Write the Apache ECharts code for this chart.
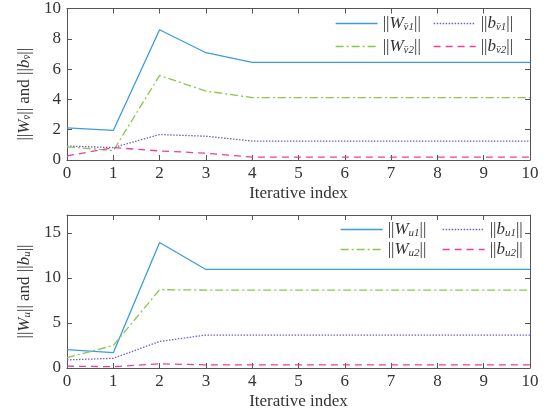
<!DOCTYPE html>
<html><head><meta charset="utf-8">
<script src="https://cdn.jsdelivr.net/npm/echarts@6/dist/echarts.min.js"></script>
<style>html,body{margin:0;padding:0;background:#fff}#c{width:552px;height:416px}</style>
</head><body><div id="c"></div>
<script>
var iter = [0,1,2,3,4,5,6,7,8,9,10];
var xTicks = ['0','1','2','3','4','5','6','7','8','9','10'];
// top panel
var Wv1 = [2.12,1.95,8.6,7.08,6.45,6.45,6.45,6.45,6.45,6.45,6.45];
var Wv2 = [0.87,0.62,5.58,4.55,4.12,4.12,4.12,4.12,4.12,4.12,4.12];
var bv1 = [0.92,0.82,1.68,1.57,1.25,1.25,1.25,1.25,1.25,1.25,1.25];
var bv2 = [0.27,0.82,0.6,0.45,0.19,0.19,0.19,0.19,0.19,0.19,0.19];
// bottom panel
var Wu1 = [2.05,1.7,13.95,10.95,10.95,10.95,10.95,10.95,10.95,10.95,10.95];
var Wu2 = [1.15,2.5,8.7,8.66,8.66,8.66,8.66,8.66,8.66,8.66,8.66];
var bu1 = [0.9,1.08,2.95,3.66,3.66,3.66,3.66,3.66,3.66,3.66,3.66];
var bu2 = [0.2,0.15,0.46,0.35,0.35,0.35,0.35,0.35,0.35,0.35,0.35];

var FONT = 'Liberation Serif';
var AX = '#555';
var TXT = '#333';
var colors = {W1:'#3d9be0', W2:'#86c84a', b1:'#7a5ac8', b2:'#e8409a'};
var styles = {W1:'solid', W2:[8,3,2,3], b1:[1.5,1.5], b2:[7,5]};

function pairs(v){ return iter.map(function(x,i){ return [x, v[i]]; }); }

var rich = {
  n:{fontFamily:FONT,fontSize:17,color:TXT},
  i:{fontFamily:FONT,fontSize:17,fontStyle:'italic',color:TXT},
  s:{fontFamily:FONT,fontSize:11,fontStyle:'italic',color:TXT,verticalAlign:'bottom',padding:[7,0,0,0]}
};

function label(sym, sub){ return '{n|||}{i|'+sym+'}{s|'+sub+'}{n|||}'; }

var names = {
  Wv1: label('W','v\u03041'), Wv2: label('W','v\u03042'),
  bv1: label('b','v\u03041'), bv2: label('b','v\u03042'),
  Wu1: label('W','u1'), Wu2: label('W','u2'),
  bu1: label('b','u1'), bu2: label('b','u2')
};

function xAx(gi){
  return [{
    type:'value', gridIndex:gi, min:0, max:10, interval:1, position:'bottom',
    axisLine:{show:true,onZero:false,lineStyle:{color:AX,width:1}},
    axisTick:{show:true,inside:true,length:5,lineStyle:{color:AX}},
    axisLabel:{show:true,margin:5,color:TXT,fontFamily:FONT,fontSize:17,formatter:function(v){return xTicks[v];}},
    splitLine:{show:false},
    name:'Iterative index', nameLocation:'middle', nameGap:25,
    nameTextStyle:{color:TXT,fontFamily:FONT,fontSize:17}
  },{
    type:'value', gridIndex:gi, min:0, max:10, interval:1, position:'top',
    axisLine:{show:true,onZero:false,lineStyle:{color:AX,width:1}},
    axisTick:{show:true,inside:true,length:5,lineStyle:{color:AX}},
    axisLabel:{show:false}, splitLine:{show:false}
  }];
}
function yAx(gi, max, interval, nameStr, namePad){
  return [{
    type:'value', gridIndex:gi, min:0, max:max, interval:interval, position:'left',
    axisLine:{show:true,onZero:false,lineStyle:{color:AX,width:1}},
    axisTick:{show:true,inside:true,length:5,lineStyle:{color:AX}},
    axisLabel:{show:true,margin:6,color:TXT,fontFamily:FONT,fontSize:17,showMaxLabel: max%interval===0},
    splitLine:{show:false},
    name:nameStr, nameLocation:'middle', nameGap:32, nameRotate:90,
    nameTextStyle:{color:TXT,fontFamily:FONT,fontSize:17,rich:rich,padding:namePad}
  },{
    type:'value', gridIndex:gi, min:0, max:max, interval:interval, position:'right',
    axisLine:{show:true,onZero:false,lineStyle:{color:AX,width:1}},
    axisTick:{show:true,inside:true,length:5,lineStyle:{color:AX}},
    axisLabel:{show:false}, splitLine:{show:false}
  }];
}

function ser(name, data, key, xi, yi){
  return {type:'line', name:name, xAxisIndex:xi, yAxisIndex:yi, data:pairs(data),
    symbol:'none', silent:true, animation:false,
    lineStyle:{color:colors[key], width:1.3, type:styles[key]},
    itemStyle:{color:colors[key]}};
}

function leg(name, left, top){
  return {show:true, data:[name], left:left, top:top, itemWidth:42, itemHeight:12,
    padding:0, itemGap:0,
    itemStyle:{opacity:0, borderWidth:0, color:'rgba(0,0,0,0)', borderColor:'rgba(0,0,0,0)'},
    lineStyle:{width:1.3},
    textStyle:{rich:rich, color:TXT, fontFamily:FONT, fontSize:17},
    formatter:function(n){return n;}, selectedMode:false};
}

var chart = echarts.init(document.getElementById('c'), null, {renderer:'canvas'});
chart.setOption({
  backgroundColor:'#fff',
  animation:false,
  grid:[{left:67,right:22,top:7,height:153},{left:67,right:22,top:215,height:153}],
  xAxis: xAx(0).concat(xAx(1)),
  yAxis: yAx(0,10,2,'{n|||}{i|W}{s|v\u0304}{n|||} and {n|||}{i|b}{s|v\u0304}{n|||}',[0,20,0,0])
        .concat(yAx(1,17,5,'{n|||}{i|W}{s|u}{n|||} and {n|||}{i|b}{s|u}{n|||}',[0,0,0,0])),
  legend:[
    leg(names.Wv1,335,15), leg(names.bv1,433,15), leg(names.Wv2,335,38), leg(names.bv2,433,38),
    leg(names.Wu1,340,221), leg(names.bu1,442,221), leg(names.Wu2,340,241), leg(names.bu2,442,241)
  ],
  series:[
    ser(names.Wv1,Wv1,'W1',0,0), ser(names.bv1,bv1,'b1',0,0),
    ser(names.Wv2,Wv2,'W2',0,0), ser(names.bv2,bv2,'b2',0,0),
    ser(names.Wu1,Wu1,'W1',2,2), ser(names.bu1,bu1,'b1',2,2),
    ser(names.Wu2,Wu2,'W2',2,2), ser(names.bu2,bu2,'b2',2,2)
  ]
});
</script></body></html>
